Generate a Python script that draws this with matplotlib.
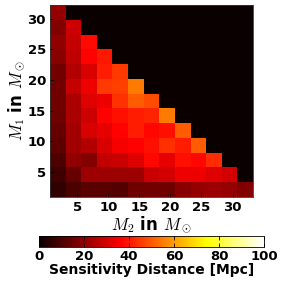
import numpy as np
import matplotlib
matplotlib.use("Agg")
import matplotlib.pyplot as plt

plt.rcParams['mathtext.fontset'] = 'cm'
plt.rcParams['font.family'] = 'DejaVu Sans'

# component masses (cell centres) in solar masses
masses = [2, 4.5, 7, 9.5, 12, 14.5, 17, 19.5, 22, 24.5, 27, 29.5, 32]

# sensitivity distance [Mpc], one list per M1 row, from M1 = 32 down to 2
# each row holds values for M2 = 2, 4.5, ... (only where M1 + M2 is allowed)
row_32 = [21]
row_29_5 = [18, 29]
row_27 = [20, 28, 38]
row_24_5 = [19, 27, 37, 40]
row_22 = [16, 25, 31, 41, 45]
row_19_5 = [16, 28, 34, 45, 46, 55]
row_17 = [15, 24, 32, 34, 44, 50, 48]
row_14_5 = [15, 24, 29, 37, 39, 41, 42, 55]
row_12 = [14, 23, 31, 33, 37, 41, 37.7, 39, 50]
row_9_5 = [12.6, 23, 25, 31, 35.4, 37, 39, 43.6, 41, 50]
row_7 = [10, 20, 18, 27.5, 28.6, 32, 37.7, 33, 39, 37.7, 43]
row_4_5 = [8, 14, 22, 22, 22, 22, 28.6, 30, 34, 34, 32, 30]
row_2 = [6, 10, 12, 12, 11, 15, 16, 15, 19, 21, 22, 21, 18]

rows = [row_32, row_29_5, row_27, row_24_5, row_22, row_19_5, row_17,
        row_14_5, row_12, row_9_5, row_7, row_4_5, row_2]

grid = np.zeros((len(masses), len(masses)))
for i, r in enumerate(rows):
    grid[i, :len(r)] = r

fig = plt.figure(figsize=(2.83, 2.83), dpi=100)
ax = fig.add_axes([0.177, 0.304, 0.717, 0.678])
im = ax.imshow(grid, cmap='hot', vmin=0, vmax=100, aspect='auto',
               interpolation='nearest', extent=[0.6, 33.3, 0.92, 32.2])

ax.set_xticks([5, 10, 15, 20, 25, 30])
ax.set_yticks([5, 10, 15, 20, 25, 30])
ax.tick_params(direction='in', length=3, width=0.6, labelsize=9.5, pad=3)
for lab in ax.get_xticklabels() + ax.get_yticklabels():
    lab.set_fontweight('bold')
ax.set_xlabel(r'$M_2$ in $M_\odot$', fontsize=12, fontweight='bold', labelpad=0)
ax.set_ylabel(r'$M_1$ in $M_\odot$', fontsize=12, fontweight='bold', labelpad=0)
for s in ax.spines.values():
    s.set_linewidth(0.6)
    s.set_color('#333333')

cax = fig.add_axes([0.138, 0.127, 0.795, 0.039])
cb = fig.colorbar(im, cax=cax, orientation='horizontal')
cb.set_ticks([0, 20, 40, 60, 80, 100])
cax.tick_params(direction='in', length=3, width=0.6, labelsize=9.5, pad=2,
                top=True, bottom=True)
for lab in cax.get_xticklabels():
    lab.set_fontweight('bold')
cb.outline.set_linewidth(0.6)
cb.set_label('Sensitivity Distance [Mpc]', fontsize=10, fontweight='bold', labelpad=0)

fig.savefig('out.png', dpi=100)
